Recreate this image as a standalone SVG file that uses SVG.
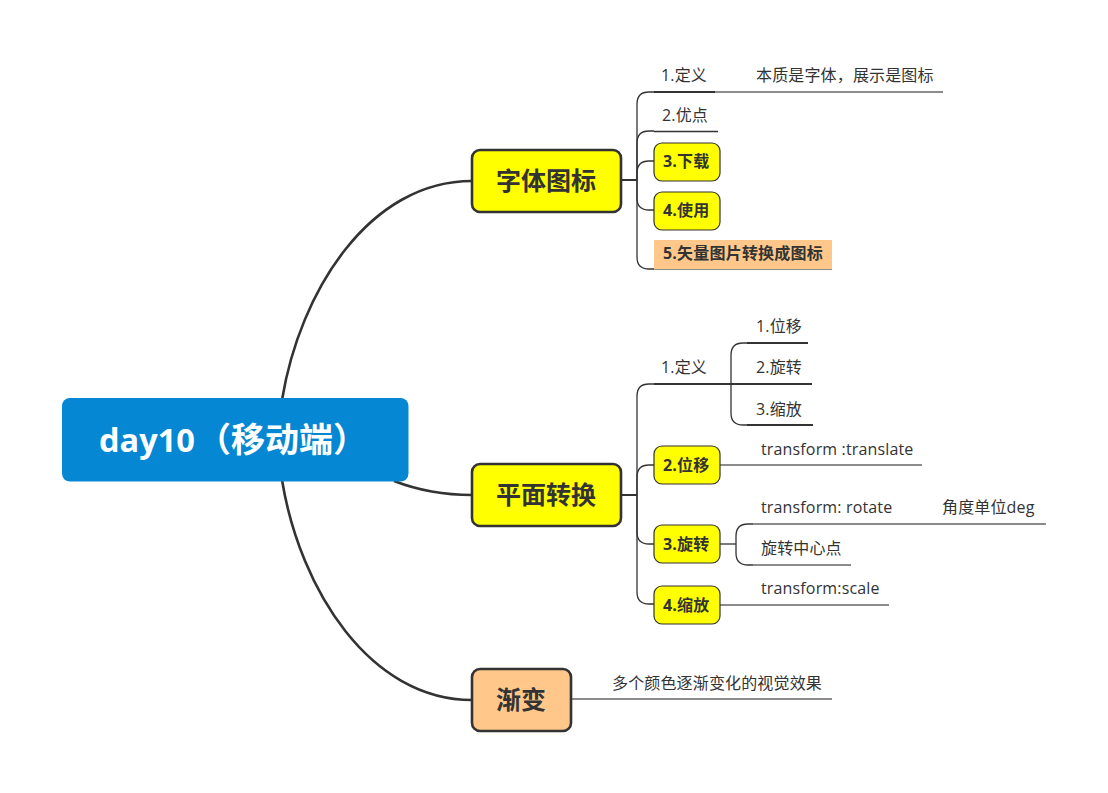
<svg xmlns="http://www.w3.org/2000/svg" width="1108" height="793" viewBox="0 0 1108 793">
<style>
text{font-family:"Open Sans","Noto Sans CJK SC",sans-serif;fill:#333;dominant-baseline:central}
.t{font-size:16px;letter-spacing:.15px}
.s{font-size:16px;font-weight:700;letter-spacing:.2px}
.m{font-size:25px;font-weight:700}
.sb{fill:#ff0;stroke:#333;stroke-width:1.2}
.mb{fill:#ff0;stroke:#333;stroke-width:2.6}
#connectors path{fill:none;stroke:#333;stroke-width:1.3}
#connectors .main{stroke-width:2.6}
#connectors .mid{stroke-width:2}
#connectors .g{stroke:#666}
</style>
<rect width="1108" height="793" fill="#fff"/>
<g id="connectors">
<path class="main" d="M282 400C300 290 370 181 472 181"/>
<path class="main" d="M282 480C300 590 370 700 472 700"/>
<path class="main" d="M394 481C420 491 445 495 472 495"/>
<path class="mid" d="M621 180H637"/>
<path d="M654 92H649Q637 92 637 104V257Q637 269 649 269H654"/>
<path d="M654 131H649Q637 131 637 143V180"/>
<path d="M654 161H649Q637 161 637 173V198Q637 210 649 210H654"/>
<path class="mid" d="M654 92H715"/>
<path class="g" d="M715 92H943"/>
<path d="M654 131.500H718"/>
<path class="g" d="M654 269H832"/>
<path class="mid" d="M621 495H637"/>
<path d="M654 384H649Q637 384 637 396V592Q637 604 649 604H654"/>
<path d="M654 465H649Q637 465 637 477V532Q637 544 649 544H654"/>
<path class="mid" d="M654 384H747"/>
<path d="M747 343H743Q731 343 731 355V413Q731 425 743 425H747"/>
<path class="mid" d="M747 343H808M747 384H812M747 425H813"/>
<path class="g" d="M720 465H922"/>
<path d="M720 544H736"/>
<path d="M753 524H748Q736 524 736 536V553Q736 565 748 565H753"/>
<path class="g" d="M753 524H1046M753 565H851M720 605H889"/>
<path class="g" d="M571 699H832"/>
</g>
<g id="root"><rect x="62" y="398" width="346.500" height="83.500" rx="8" fill="#0587d4"/><text x="99" y="439" font-size="32.500" font-weight="700" style="fill:#fff">day10<tspan x="197" font-size="34">（移动端）</tspan></text></g>
<g id="n-ziti"><rect class="mb" x="472" y="150" width="149" height="62" rx="8"/><text class="m" x="496" y="180">字体图标</text></g>
<g id="n-pingmian"><rect class="mb" x="472" y="464" width="149" height="62" rx="8"/><text class="m" x="496" y="494">平面转换</text></g>
<g id="n-jianbian"><rect class="mb" x="472" y="669" width="99" height="62" rx="8" style="fill:#ffc88a"/><text class="m" x="496" y="699">渐变</text></g>
<g id="a1"><text class="t" x="661" y="75">1.定义</text></g>
<g id="a1a"><text class="t" x="756" y="75">本质是字体，展示是图标</text></g>
<g id="a2"><text class="t" x="662" y="115">2.优点</text></g>
<g id="a3"><rect class="sb" x="654" y="143" width="66" height="38" rx="8"/><text class="s" x="663" y="161">3.下载</text></g>
<g id="a4"><rect class="sb" x="654" y="192" width="66" height="38" rx="8"/><text class="s" x="663" y="210">4.使用</text></g>
<g id="a5"><rect x="654" y="240" width="178" height="29" fill="#ffc88a"/><text class="s" x="663" y="253">5.矢量图片转换成图标</text></g>
<g id="b1"><text class="t" x="661" y="367">1.定义</text></g>
<g id="b1a"><text class="t" x="756" y="326">1.位移</text></g>
<g id="b1b"><text class="t" x="756" y="367">2.旋转</text></g>
<g id="b1c"><text class="t" x="756" y="409">3.缩放</text></g>
<g id="b2"><rect class="sb" x="654" y="446" width="66" height="38" rx="8"/><text class="s" x="663" y="465">2.位移</text></g>
<g id="b2a"><text class="t" x="761" y="449">transform :translate</text></g>
<g id="b3"><rect class="sb" x="654" y="525" width="66" height="38" rx="8"/><text class="s" x="663" y="544">3.旋转</text></g>
<g id="b3a"><text class="t" x="761" y="507">transform: rotate</text></g>
<g id="b3a1"><text class="t" x="942" y="507">角度单位deg</text></g>
<g id="b3b"><text class="t" x="761" y="548">旋转中心点</text></g>
<g id="b4"><rect class="sb" x="654" y="586" width="66" height="38" rx="8"/><text class="s" x="663" y="605">4.缩放</text></g>
<g id="b4a"><text class="t" x="761" y="588">transform:scale</text></g>
<g id="c1"><text class="t" x="612" y="683">多个颜色逐渐变化的视觉效果</text></g>
</svg>
